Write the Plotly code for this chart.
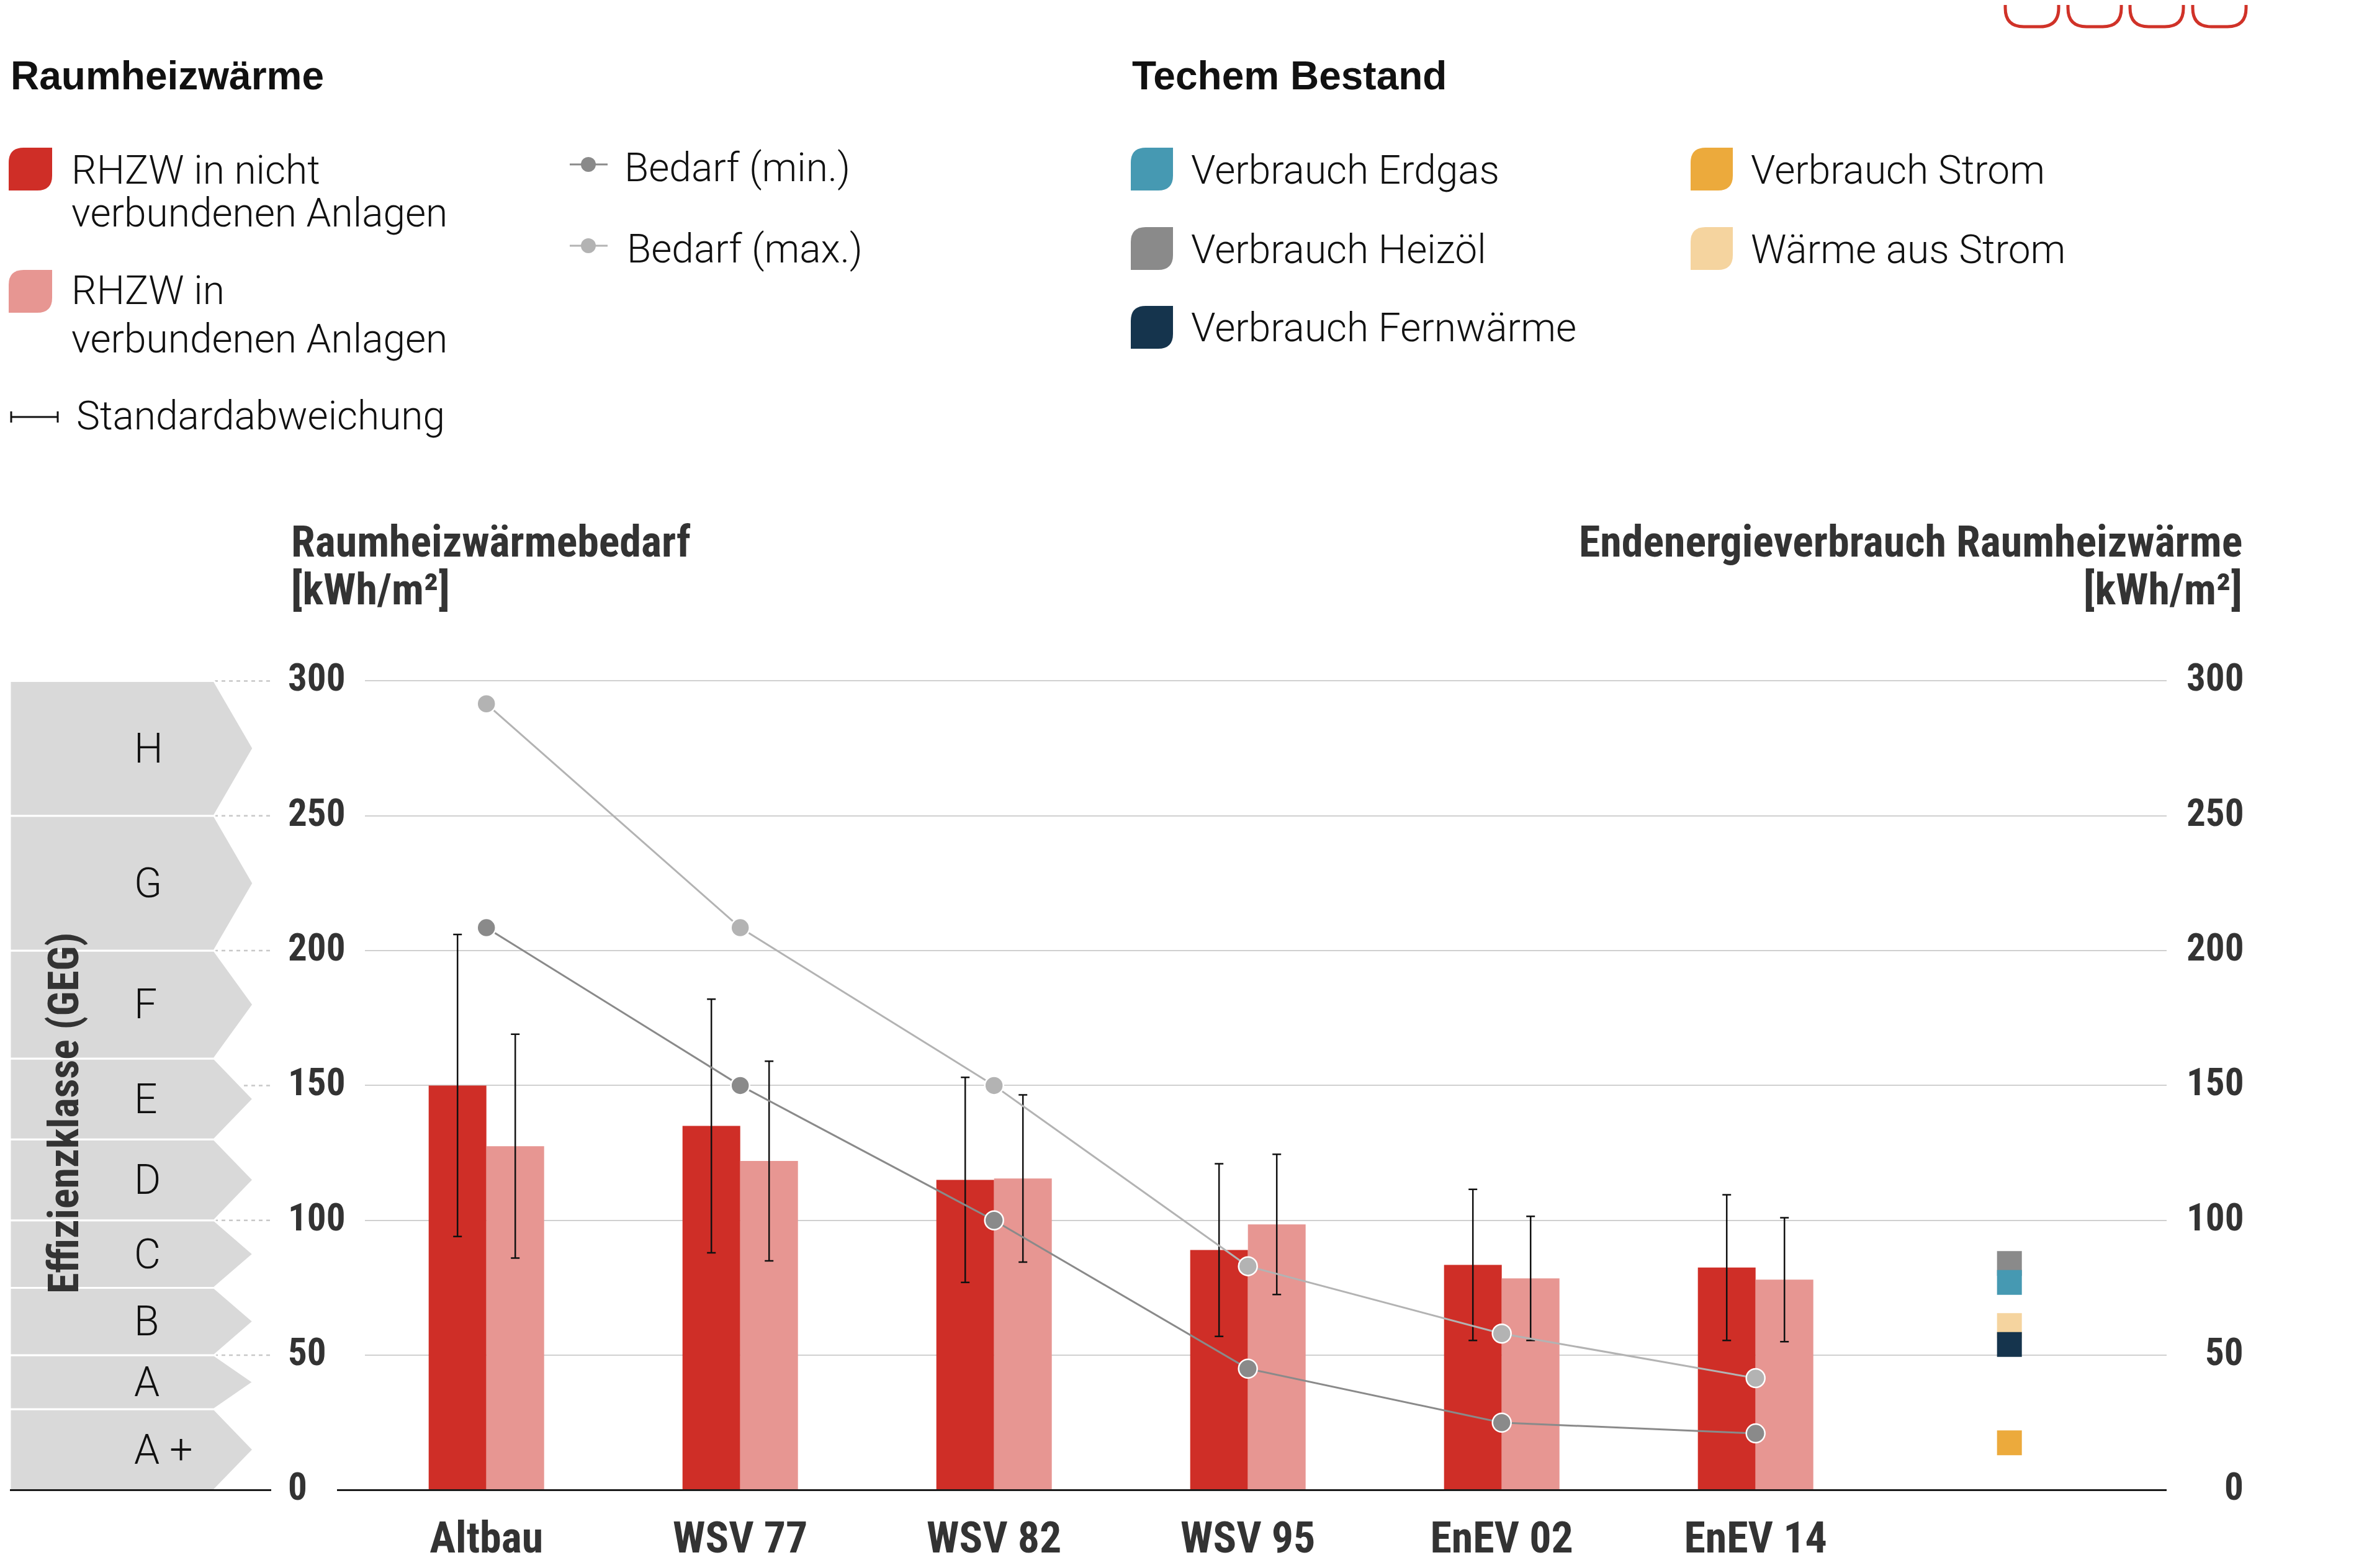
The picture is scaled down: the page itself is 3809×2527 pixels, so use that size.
import plotly.graph_objects as go

# ---------------- data ----------------
categories = ["Altbau", "WSV 77", "WSV 82", "WSV 95", "EnEV 02", "EnEV 14"]
rhzw_nicht_verbunden = [150, 135, 115, 89, 83.5, 82.5]
rhzw_nicht_verbunden_sd = [56, 47, 38, 32, 28, 27]
rhzw_verbunden = [127.5, 122, 115.5, 98.5, 78.5, 78]
rhzw_verbunden_sd = [41.5, 37, 31, 26, 23, 23]
bedarf_max = [291.5, 208.5, 150, 83, 58, 41.5]
bedarf_min = [208.5, 150, 100, 45, 25, 21]

techem_labels = ["Verbrauch Heizöl", "Verbrauch Erdgas", "Wärme aus Strom",
                 "Verbrauch Fernwärme", "Verbrauch Strom"]
techem_values = [84, 77, 61, 54, 17.5]
techem_colors = ["#8a8a8a", "#4699b2", "#f5d49f", "#15344d", "#ecaa3c"]

klassen = ["A +", "A", "B", "C", "D", "E", "F", "G", "H"]
klassen_grenzen = [0, 30, 50, 75, 100, 130, 160, 200, 250, 300]

y_ticks = [0, 50, 100, 150, 200, 250, 300]

# ---------------- styling / geometry ----------------
RED = "#cf2e27"
PINK = "#e79692"
GRAY_MIN = "#8a8a8a"
GRAY_MAX = "#b3b3b3"
DARK = "#333333"
BLACK = "#111111"

COND = "Roboto Condensed, Liberation Sans Narrow, Arial Narrow, DejaVu Sans Condensed, sans-serif"
BOLDF = "Liberation Sans, Arial, Helvetica, sans-serif"
LIGHT = "Roboto, Liberation Sans, sans-serif"

W, H = 3809, 2527
OX, OY = 8, 8
FW, FH = W - 2 * OX, H - 2 * OY


def fx(X):
    return (X - OX) / FW


def fy(Y):
    return 1 - (Y - OY) / FH


Y0PX, Y300PX = 2401.4, 1097.4
PPU = (Y0PX - Y300PX) / 300.0
YMIN, YMAX = -5, 305
y_dom = [fy(Y0PX - YMIN * PPU), fy(Y0PX - YMAX * PPU)]

CAT0, STEP = 783.7, 409.0
XL, XR = 588, 3491
x_dom = [fx(XL), fx(XR)]
x_rng = [(XL - CAT0) / STEP, (XR - CAT0) / STEP]
BW = 93.0 / STEP
xs = list(range(len(categories)))

fig = go.Figure()

fig.add_trace(go.Bar(
    x=xs, y=rhzw_nicht_verbunden, width=BW, offset=-BW,
    marker=dict(color=RED, line=dict(width=0)),
    error_y=dict(type="data", array=rhzw_nicht_verbunden_sd, color=BLACK,
                 thickness=2.5, width=7),
    name="RHZW in nicht verbundenen Anlagen"))
fig.add_trace(go.Bar(
    x=xs, y=rhzw_verbunden, width=BW, offset=0,
    marker=dict(color=PINK, line=dict(width=0)),
    error_y=dict(type="data", array=rhzw_verbunden_sd, color=BLACK,
                 thickness=2.5, width=7),
    name="RHZW in verbundenen Anlagen"))

fig.add_trace(go.Scatter(
    x=xs, y=bedarf_max, mode="lines+markers", name="Bedarf (max.)",
    line=dict(color=GRAY_MAX, width=3),
    marker=dict(size=30, color=GRAY_MAX, line=dict(color="white", width=2.5)),
    cliponaxis=False))
fig.add_trace(go.Scatter(
    x=xs, y=bedarf_min, mode="lines+markers", name="Bedarf (min.)",
    line=dict(color=GRAY_MIN, width=3),
    marker=dict(size=30, color=GRAY_MIN, line=dict(color="white", width=2.5)),
    cliponaxis=False))

fig.add_trace(go.Scatter(
    x=[len(categories)] * len(techem_values), y=techem_values, yaxis="y2",
    mode="markers", text=techem_labels, name="Techem Bestand",
    marker=dict(symbol="square", size=40, color=techem_colors, line=dict(width=0)),
    cliponaxis=False))

shapes = []
annotations = []

# dashed guide lines from the class arrows to the left tick labels
for t in y_ticks[1:]:
    shapes.append(dict(type="line", xref="paper", yref="y", x0=fx(345), x1=fx(437),
                       y0=t, y1=t, layer="below",
                       line=dict(color="#c8c8c8", width=2.5, dash="6px,6px")))

# efficiency class chevrons
for i, k in enumerate(klassen):
    lo, hi = klassen_grenzen[i], klassen_grenzen[i + 1]
    mid = (lo + hi) / 2.0
    path = (f"M {fx(16)},{lo} L {fx(345)},{lo} L {fx(408)},{mid} "
            f"L {fx(345)},{hi} L {fx(16)},{hi} Z")
    shapes.append(dict(type="path", xref="paper", yref="y", path=path,
                       fillcolor="#d9d9d9", line=dict(color="white", width=3),
                       layer="below"))
    annotations.append(dict(xref="paper", yref="y", x=fx(214), y=mid, text=k,
                            xanchor="left", yanchor="middle", showarrow=False,
                            font=dict(family=LIGHT, size=66, color=BLACK, weight=300)))

# baselines
shapes.append(dict(type="line", xref="paper", yref="y", x0=fx(543), x1=fx(XR),
                   y0=0, y1=0, layer="above", line=dict(color="#1a1a1a", width=3)))
shapes.append(dict(type="line", xref="paper", yref="y", x0=fx(16), x1=fx(437),
                   y0=0, y1=0, layer="above", line=dict(color="#1a1a1a", width=3)))

# tick labels (left: left aligned, right: right aligned)
TICK_SIZE = 61
for t in y_ticks:
    annotations.append(dict(xref="paper", yref="y", x=fx(462), y=t + 1.2, text=str(t),
                            xanchor="left", yanchor="middle", showarrow=False,
                            font=dict(family=COND, size=TICK_SIZE, color=DARK, weight="bold")))
    annotations.append(dict(xref="paper", yref="y", x=fx(3617), y=t + 1.2, text=str(t),
                            xanchor="right", yanchor="middle", showarrow=False,
                            font=dict(family=COND, size=TICK_SIZE, color=DARK, weight="bold")))


def txt(X, Y, s, family, size, color, weight="normal", anchor="left"):
    annotations.append(dict(xref="paper", yref="paper", x=fx(X), y=fy(Y), text=s,
                            xanchor=anchor, yanchor="middle", showarrow=False,
                            font=dict(family=family, size=size, color=color,
                                      weight=weight)))


# axis titles
TITLE_SIZE = 70
txt(467, 873, "Raumheizwärmebedarf", COND, TITLE_SIZE, DARK, "bold")
txt(467, 950, "[kWh/m²]", COND, TITLE_SIZE, DARK, "bold")
txt(3615, 873, "Endenergieverbrauch Raumheizwärme", COND, TITLE_SIZE, DARK, "bold", "right")
txt(3615, 950, "[kWh/m²]", COND, TITLE_SIZE, DARK, "bold", "right")

annotations.append(dict(xref="paper", yref="paper", x=fx(103), y=fy(1794),
                        text="Effizienzklasse (GEG)", textangle=-90,
                        xanchor="center", yanchor="middle", showarrow=False,
                        font=dict(family=COND, size=68, color=DARK, weight="bold")))

# legend headings
txt(15, 122, "Raumheizwärme", BOLDF, 64, BLACK, "bold")
txt(1822, 122, "Techem Bestand", BOLDF, 64, BLACK, "bold")


def leaf(x0, y0, x1, y1, color, r=24):
    rx, ry = r, r
    p = (f"M {fx(x0)},{fy(y0 + ry)} Q {fx(x0)},{fy(y0)} {fx(x0 + rx)},{fy(y0)} "
         f"L {fx(x1)},{fy(y0)} L {fx(x1)},{fy(y1 - ry)} "
         f"Q {fx(x1)},{fy(y1)} {fx(x1 - rx)},{fy(y1)} L {fx(x0)},{fy(y1)} Z")
    shapes.append(dict(type="path", xref="paper", yref="paper", path=p,
                       fillcolor=color, line=dict(width=0)))


# left legend
leaf(14, 238, 84, 307, RED)
txt(113, 274, "RHZW in nicht", LIGHT, 64, BLACK, 300)
txt(113, 344, "verbundenen Anlagen", LIGHT, 64, BLACK, 300)
leaf(14, 435, 84, 504, PINK)
txt(113, 469, "RHZW in", LIGHT, 64, BLACK, 300)
txt(113, 546, "verbundenen Anlagen", LIGHT, 64, BLACK, 300)

shapes.append(dict(type="line", xref="paper", yref="paper", x0=fx(18), x1=fx(93),
                   y0=fy(672), y1=fy(672), line=dict(color=BLACK, width=3)))
for xx in (18, 93):
    shapes.append(dict(type="line", xref="paper", yref="paper", x0=fx(xx), x1=fx(xx),
                       y0=fy(663), y1=fy(681), line=dict(color=BLACK, width=3)))
txt(121, 670, "Standardabweichung", LIGHT, 64, BLACK, 300)

for yy, col, label, tx in ((265, GRAY_MIN, "Bedarf (min.)", 1004),
                           (396, GRAY_MAX, "Bedarf (max.)", 1008)):
    shapes.append(dict(type="line", xref="paper", yref="paper", x0=fx(918), x1=fx(979),
                       y0=fy(yy), y1=fy(yy), line=dict(color=col, width=3)))
    shapes.append(dict(type="circle", xref="paper", yref="paper",
                       x0=fx(936), x1=fx(960), y0=fy(yy - 12), y1=fy(yy + 12),
                       fillcolor=col, line=dict(width=0)))
    txt(tx, yy + 5, label, LIGHT, 64, BLACK, 300)

# right legend
legend_right = [
    (1822, 238, "#4699b2", "Verbrauch Erdgas"),
    (1822, 366, "#8a8a8a", "Verbrauch Heizöl"),
    (1822, 493, "#15344d", "Verbrauch Fernwärme"),
    (2724, 238, "#ecaa3c", "Verbrauch Strom"),
    (2724, 366, "#f5d49f", "Wärme aus Strom"),
]
for x0, y0, col, label in legend_right:
    leaf(x0, y0, x0 + 68, y0 + 69, col)
    txt(x0 + 95, y0 + 36, label, LIGHT, 64, BLACK, 300)

# decorative red tabs at the top right
for x0 in (3231, 3332, 3432, 3533):
    x1 = x0 + 86
    r = 30
    p = (f"M {fx(x0)},{fy(-20)} L {fx(x0)},{fy(43 - r)} "
         f"Q {fx(x0)},{fy(43)} {fx(x0 + r)},{fy(43)} L {fx(x1 - r)},{fy(43)} "
         f"Q {fx(x1)},{fy(43)} {fx(x1)},{fy(43 - r)} L {fx(x1)},{fy(-20)}")
    shapes.append(dict(type="path", xref="paper", yref="paper", path=p,
                       fillcolor="rgba(0,0,0,0)", line=dict(color="#d03228", width=5)))

fig.update_layout(
    width=FW, height=FH, autosize=False,
    margin=dict(l=0, r=0, t=0, b=0, pad=0, autoexpand=False),
    paper_bgcolor="white", plot_bgcolor="rgba(0,0,0,0)",
    showlegend=False, barmode="overlay",
    shapes=shapes, annotations=annotations,
    xaxis=dict(domain=x_dom, range=x_rng, tickmode="array", tickvals=xs,
               ticktext=categories, showgrid=False, zeroline=False, showline=False,
               ticks="", ticklabelstandoff=8,
               tickfont=dict(family=COND, size=70, color=DARK, weight="bold")),
    yaxis=dict(domain=y_dom, range=[YMIN, YMAX], tickmode="array", tickvals=y_ticks,
               showticklabels=False, ticks="", showgrid=True, gridcolor="#d0d0d0",
               gridwidth=2, zeroline=False, showline=False),
    yaxis2=dict(overlaying="y", side="right", range=[YMIN, YMAX], showgrid=False,
                showticklabels=False, ticks="", zeroline=False, showline=False),
)

fig.write_html("out.html")
